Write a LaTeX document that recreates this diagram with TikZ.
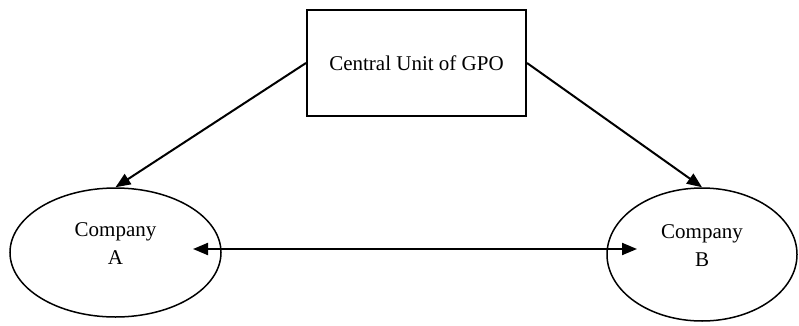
\documentclass[tikz,border=0pt]{standalone}
\usepackage{fontspec}
\setmainfont{Liberation Serif}
\usetikzlibrary{arrows.meta,shapes.geometric}

\begin{document}
\begin{tikzpicture}[x=1pt,y=-1pt,
    unitbox/.style={draw,line width=2pt,minimum width=219pt,minimum height=106pt,font=\fontsize{21}{28}\selectfont},
    firm/.style={draw,ellipse,line width=1.5pt,inner sep=0pt,align=center,text depth=17pt,font=\fontsize{21}{28}\selectfont},
    link/.style={line width=2pt,-{Triangle[length=15pt,width=12pt]}}]
        \useasboundingbox (0,0) rectangle (799,326);
        \node[unitbox] (gpo) at (416.5,63) {Central Unit of GPO};
        \node[firm,minimum width=211pt,minimum height=129pt] (compA) at (115.5,252.5) {Company\\A};
        \node[firm,minimum width=190pt,minimum height=133pt] (compB) at (702,254.5) {Company\\B};
        \coordinate (endA) at (193,249); \coordinate (endB) at (637,249);
        \draw[link] (gpo.west) -- (compA.north);
        \draw[link] (gpo.east) -- (compB.north);
        \draw[link,{Triangle[length=15pt,width=12pt]}-{Triangle[length=15pt,width=12pt]}] (endA) -- (endB);
      \end{tikzpicture}
\end{document}
